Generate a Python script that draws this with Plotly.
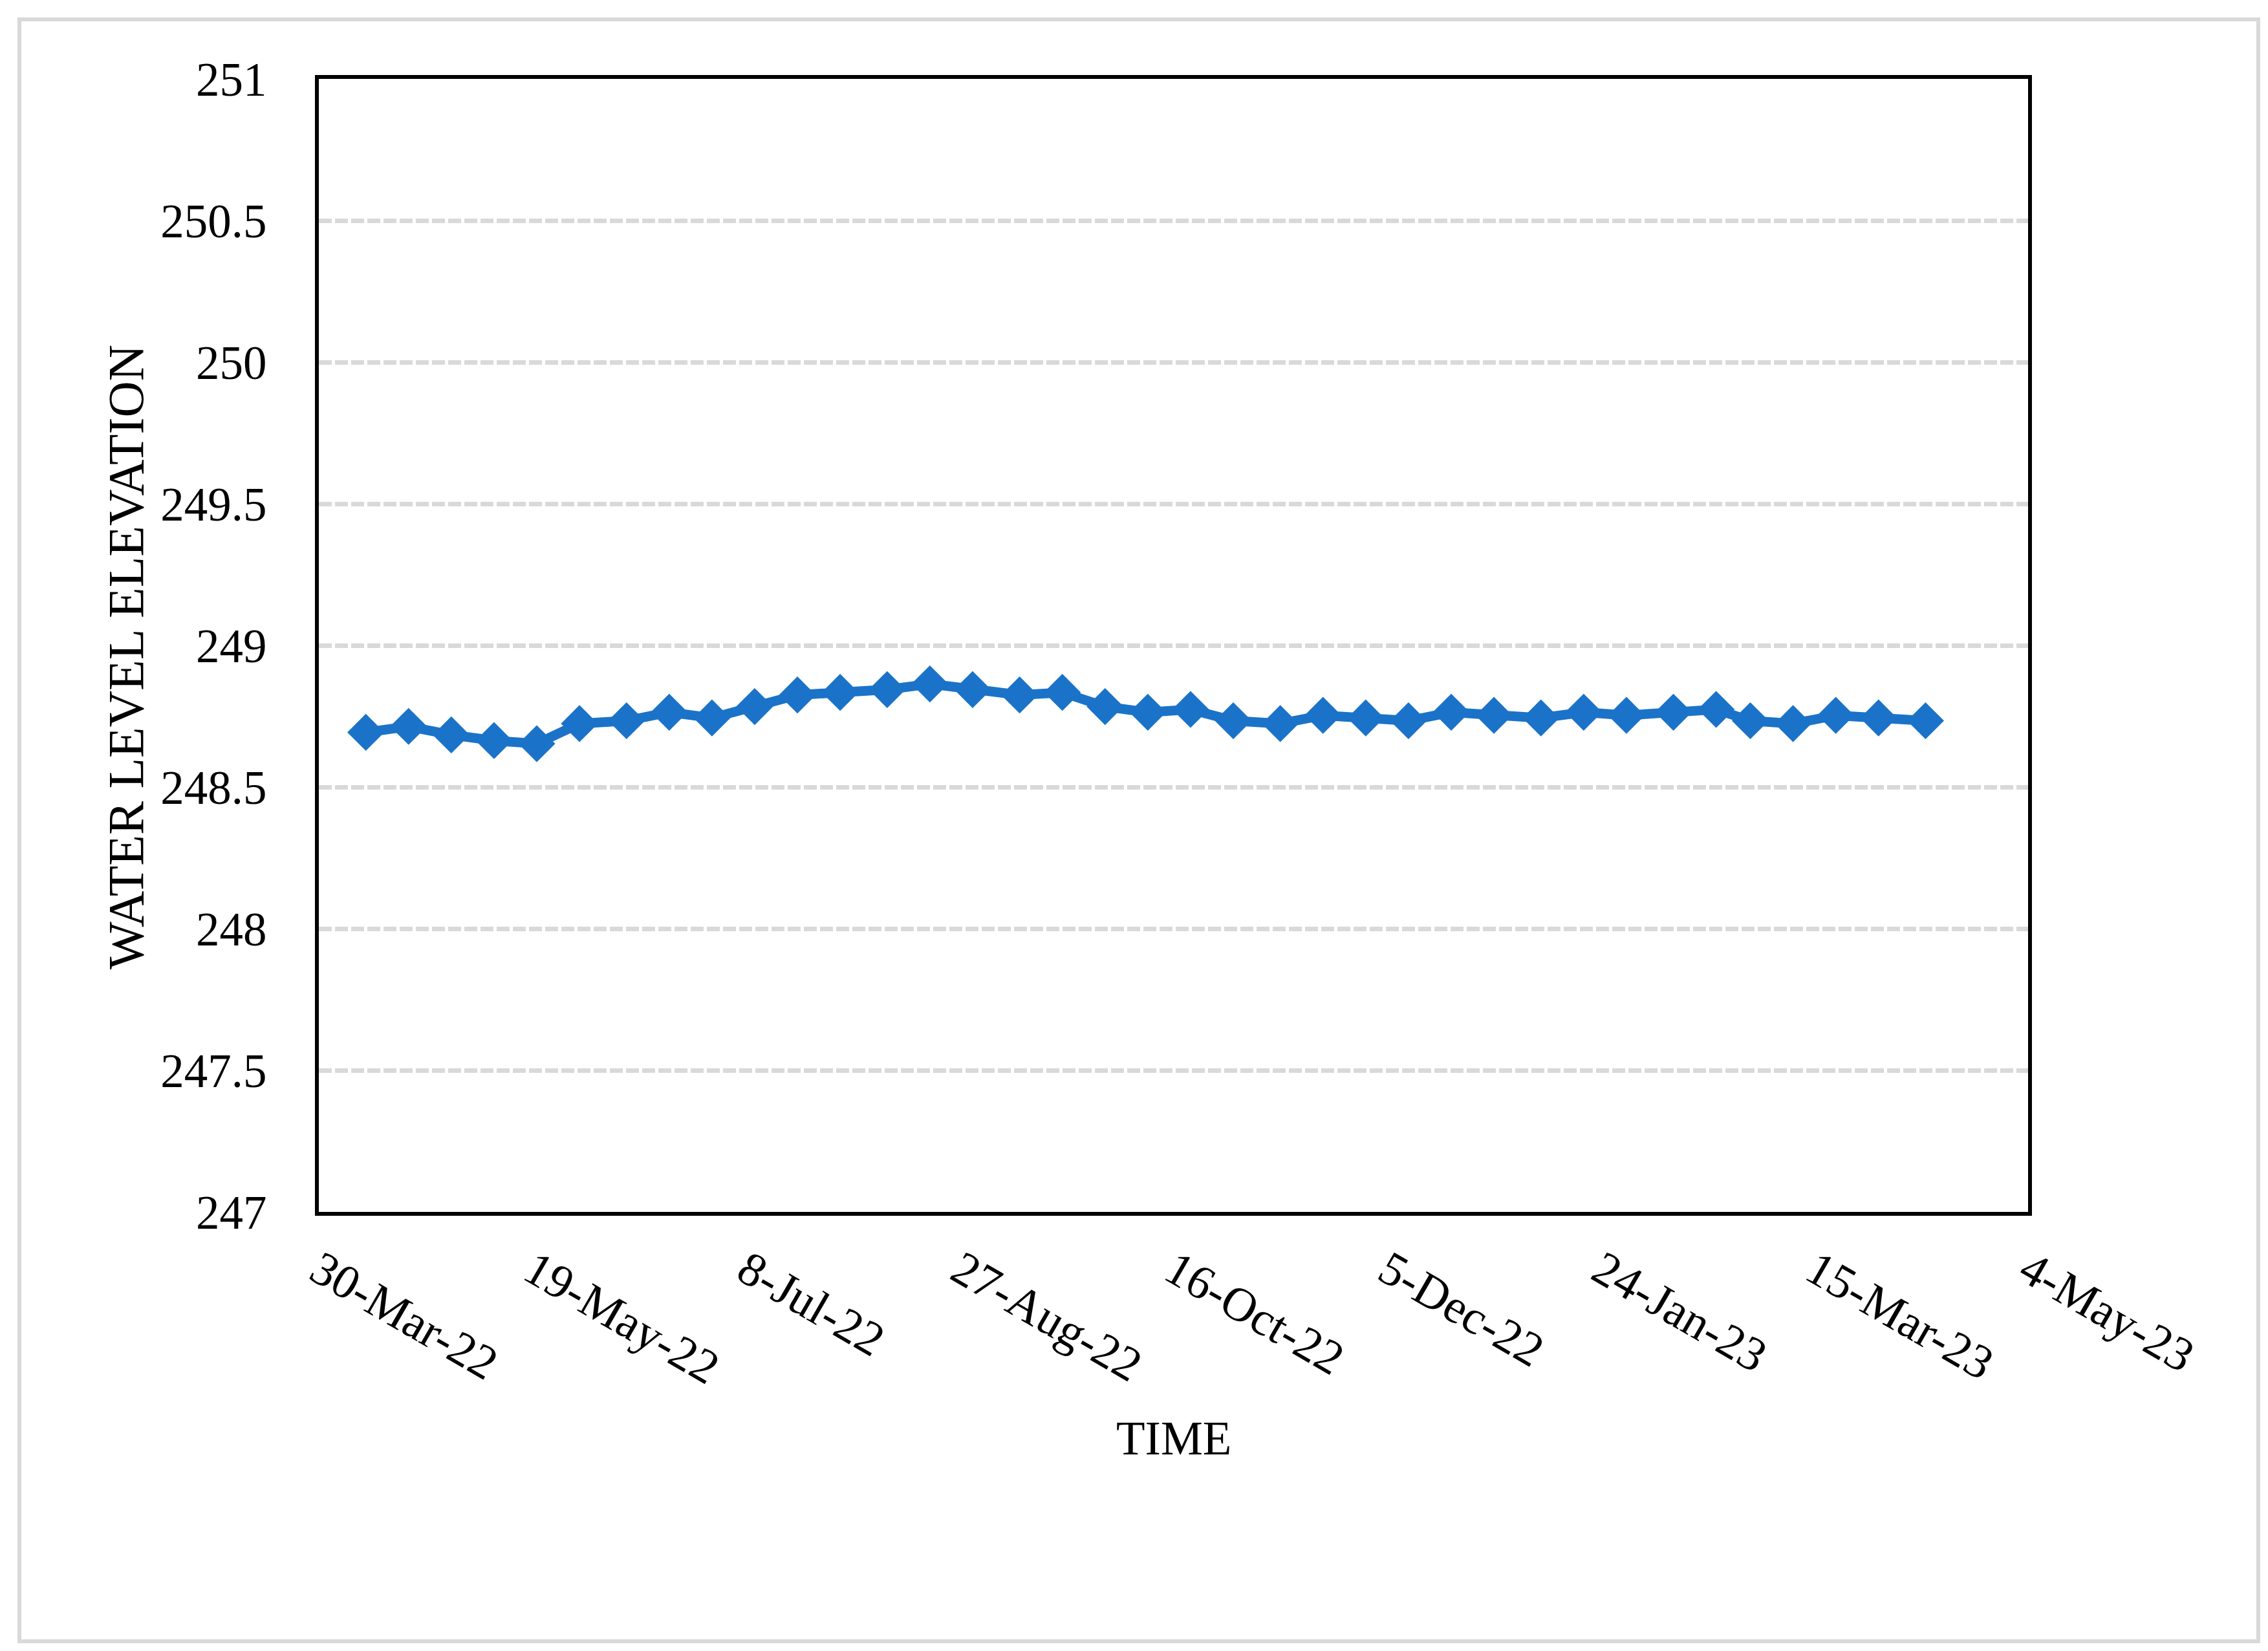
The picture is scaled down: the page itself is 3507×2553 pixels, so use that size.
import plotly.graph_objects as go

dates = ["2022-04-10", "2022-04-20", "2022-04-30", "2022-05-10", "2022-05-20", "2022-05-30",
         "2022-06-10", "2022-06-20", "2022-06-30", "2022-07-10", "2022-07-20", "2022-07-30",
         "2022-08-10", "2022-08-20", "2022-08-30", "2022-09-10", "2022-09-20", "2022-09-30",
         "2022-10-10", "2022-10-20", "2022-10-30", "2022-11-10", "2022-11-20", "2022-11-30",
         "2022-12-10", "2022-12-20", "2022-12-30", "2023-01-10", "2023-01-20", "2023-01-30",
         "2023-02-10", "2023-02-20", "2023-02-28", "2023-03-10", "2023-03-20", "2023-03-30",
         "2023-04-10"]
levels = [248.693, 248.714, 248.684, 248.664, 248.653, 248.724,
          248.734, 248.764, 248.744, 248.784, 248.825, 248.834,
          248.844, 248.864, 248.844, 248.825, 248.834, 248.784,
          248.764, 248.774, 248.734, 248.724, 248.753, 248.744,
          248.734, 248.764, 248.753, 248.744, 248.764, 248.753,
          248.764, 248.774, 248.734, 248.724, 248.753, 248.744,
          248.734]

tick_dates = ["2022-03-30", "2022-05-19", "2022-07-08", "2022-08-27", "2022-10-16",
              "2022-12-05", "2023-01-24", "2023-03-15", "2023-05-04"]
tick_labels = ["30-Mar-22", "19-May-22", "8-Jul-22", "27-Aug-22", "16-Oct-22",
               "5-Dec-22", "24-Jan-23", "15-Mar-23", "4-May-23"]
y_ticks = [247, 247.5, 248, 248.5, 249, 249.5, 250, 250.5, 251]
y_labels = ["247", "247.5", "248", "248.5", "249", "249.5", "250", "250.5", "251"]

color = "#1A73C8"
font_family = "Liberation Serif, Times New Roman, serif"

W, H = 3507, 2553
L, R, T, B = 485, 3128, 114, 1866

fig = go.Figure()
fig.add_trace(go.Scatter(
    x=dates, y=levels, mode="lines+markers",
    line=dict(color=color, width=15),
    marker=dict(symbol="diamond", size=44, color=color, line=dict(width=0)),
    showlegend=False,
))

fig.update_layout(
    width=W, height=H,
    margin=dict(l=L, r=W - R, t=T, b=H - B, pad=0),
    paper_bgcolor="white", plot_bgcolor="white",
    font=dict(family=font_family, size=73, color="black"),
    xaxis=dict(
        type="date",
        range=["2022-03-30", "2023-05-04"],
        tickmode="array", tickvals=tick_dates, ticktext=tick_labels,
        tickangle=30,
        showgrid=False, zeroline=False,
        showline=True, linecolor="black", linewidth=6, mirror=True,
        ticks="outside", ticklen=12, tickcolor="rgba(0,0,0,0)",
        tickfont=dict(family=font_family, size=74, color="black"),
    ),
    yaxis=dict(
        range=[247, 251],
        tickmode="array", tickvals=y_ticks, ticktext=y_labels,
        showgrid=True, gridcolor="#D9D9D9", gridwidth=7, griddash="20px,5px",
        zeroline=False,
        showline=True, linecolor="black", linewidth=6, mirror=True,
        ticks="outside", ticklen=60, tickcolor="rgba(0,0,0,0)",
        tickfont=dict(family=font_family, size=73, color="black"),
    ),
    annotations=[
        dict(text="TIME", xref="paper", yref="paper",
             x=0.5, y=(B - 2216) / (B - T), xanchor="center", yanchor="middle",
             showarrow=False, font=dict(family=font_family, size=73, color="black")),
        dict(text="WATER LEVEL ELEVATION", xref="paper", yref="paper",
             x=(187 - L) / (R - L), y=(B - 1008) / (B - T),
             xanchor="center", yanchor="middle", textangle=-90,
             showarrow=False, font=dict(family=font_family, size=78, color="black")),
    ],
    shapes=[
        dict(type="rect", xref="paper", yref="paper",
             x0=(22 - L) / (R - L), x1=(3484 - L) / (R - L),
             y0=(B - 2530) / (B - T), y1=(B - 22) / (B - T),
             line=dict(color="#D9D9D9", width=6), fillcolor="rgba(0,0,0,0)", layer="below"),
    ],
)

fig.write_html("out.html")
